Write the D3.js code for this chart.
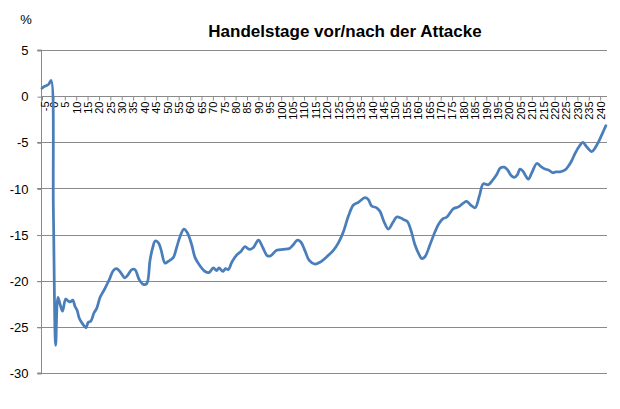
<!DOCTYPE html>
<html>
<head>
<meta charset="utf-8">
<script src="https://cdn.jsdelivr.net/npm/d3@7"></script>
<style>
  html, body { margin: 0; padding: 0; background: #ffffff; }
  svg { display: block; }
</style>
</head>
<body>
<svg id="chart" width="620" height="409"></svg>
<script>
// ---- data ----
const title = "Handelstage vor/nach der Attacke";
const unitLabel = "%";
const yTickValues = [5, 0, -5, -10, -15, -20, -25, -30];
const xTickLabels = [-5, 0, 5, 10, 15, 20, 25, 30, 35, 40, 45, 50, 55, 60, 65, 70, 75, 80, 85, 90,
  95, 100, 105, 110, 115, 120, 125, 130, 135, 140, 145, 150, 155, 160, 165, 170, 175, 180, 185, 190,
  195, 200, 205, 210, 215, 220, 225, 230, 235, 240];

// trading day relative to the attack
const days = [
  -5, -4, -3, -2, -1, 0, 1, 2, 3, 4, 5.4, 6.5, 7.5, 8.5, 9.5, 10.4, 11.4, 12.9, 14.3, 15.3, 16.4,
  17.8, 19.0, 20.5, 21.6, 22.7, 24.5, 26.3, 27.8, 29.2, 31.4, 32.9, 34.4, 35.8, 37.7, 39.5, 41.0,
  42.4, 43.6, 44.7, 46.1, 47.2, 49.0, 50.4, 52.6, 54.1, 55.6, 57.3, 58.8, 60.7, 62.2, 64.4, 66.6,
  68.4, 70.2, 71.7, 72.7, 74.3, 75.6, 76.8, 78.3, 80.5, 82.4, 84.1, 86.0, 87.8, 90.0, 91.9, 93.9,
  95.4, 98.0, 100.9, 103.6, 105.3, 107.1, 108.6, 110.5, 112.3, 114.8, 117.0, 120.0, 122.9, 125.1,
  127.3, 129.5, 131.7, 133.9, 136.8, 138.2, 139.7, 141.9, 143.4, 145.1, 147.0, 149.0, 150.7, 152.5,
  153.9, 155.4, 156.9, 158.7, 160.6, 161.7, 163.1, 165.3, 167.5, 169.0, 170.9, 172.7, 175.6, 177.8,
  179.9, 181.4, 183.2, 185.1, 187.0, 188.7, 190.9, 192.8, 194.6, 196.1, 197.9, 199.4, 200.9, 202.3,
  203.7, 204.8, 206.0, 207.2, 208.5, 210.0, 212.2, 213.9, 215.8, 217.3, 219.2, 220.6, 222.4, 224.6,
  226.0, 227.5, 229.0, 230.9, 232.4, 234.1, 236.3, 237.8, 239.2, 240.7, 242.5
];
// change in percent
const pct = [
  0.85, 1.05, 1.15, 1.3, 1.7, -12.5, -27.0, -21.8, -22.6, -23.3, -22.0, -22.2, -22.3, -22.1, -22.8, -23.2, -24.1, -24.7, -25.1, -24.5, -24.4,
  -23.5, -23.0, -21.8, -21.3, -20.8, -19.9, -18.9, -18.7, -19.0, -19.7, -19.3, -18.8, -18.8, -19.9, -20.4, -20.3,
  -17.8, -16.4, -15.7, -15.9, -16.6, -18.1, -17.9, -17.5, -16.4, -15.2, -14.4, -14.8, -16.1, -17.5, -18.4, -19.0,
  -19.1, -18.6, -18.9, -18.6, -19.0, -18.7, -18.8, -18.0, -17.2, -16.8, -16.3, -16.6, -16.4, -15.6, -16.4, -17.3,
  -17.3, -16.7, -16.6, -16.5, -16.1, -15.6, -15.8, -16.8, -17.8, -18.2, -18.0, -17.4, -16.7, -15.9,
  -14.7, -13.0, -11.8, -11.5, -11.0, -11.2, -11.9, -12.1, -12.5, -13.6, -14.4, -13.7, -13.1, -13.2,
  -13.4, -13.6, -14.5, -16.1, -17.2, -17.6, -17.4, -16.1, -14.7, -13.9, -13.3, -13.1, -12.2, -12.0,
  -11.6, -11.4, -11.8, -12.1, -10.8, -9.5, -9.6, -9.1, -8.5, -7.8, -7.7, -8.0, -8.6, -8.8,
  -8.5, -7.9, -8.1, -8.6, -9.0, -8.3, -7.3, -7.6, -7.9, -8.0, -8.3, -8.2, -8.2, -8.0,
  -7.6, -7.0, -6.2, -5.4, -5.0, -5.5, -6.0, -5.6, -5.0, -4.2, -3.2
];

// ---- layout ----
const svg = d3.select("#chart");
const plot = { left: 41, right: 607, top: 50, bottom: 373 };
const gridColor = "#8a8a8a";
const lineColor = "#4A7EBB";
const font = "'Liberation Sans', Arial, sans-serif";

const x = d3.scaleLinear().domain([-5, 243]).range([42, 607]);
const y = d3.scaleLinear().domain([-30, 5]).range([plot.bottom, plot.top]);
const fmt = d => d < 0 ? "-" + Math.abs(d) : String(d);

// horizontal gridlines
svg.append("g").selectAll("line")
  .data(yTickValues.filter(v => v !== 0))
  .join("line")
  .attr("x1", plot.left - 4).attr("x2", plot.right)
  .attr("y1", d => Math.round(y(d)) + 0.5).attr("y2", d => Math.round(y(d)) + 0.5)
  .attr("stroke", gridColor).attr("stroke-width", 1);

// y axis
const yAxis = d3.axisLeft(y).tickValues(yTickValues).tickSize(4).tickPadding(9).tickFormat(fmt);
const gy = svg.append("g")
  .attr("transform", `translate(${plot.left + 0.5},0)`)
  .call(yAxis);
gy.select(".domain").attr("stroke", gridColor).attr("d", `M-4,${plot.top}H0V${plot.bottom}H-4`);
gy.selectAll(".tick line").attr("stroke", gridColor).attr("transform", "translate(0,0.5)");
gy.selectAll(".tick text")
  .attr("font-family", font)
  .attr("font-size", 13).attr("fill", "#000").attr("dy", "0.36em");

// x axis at zero
const xAxis = d3.axisBottom(x).tickValues(xTickLabels).tickSize(4).tickPadding(3).tickFormat(fmt);
const gx = svg.append("g")
  .attr("transform", `translate(0,${Math.round(y(0)) + 0.5})`)
  .call(xAxis);
gx.select(".domain").attr("stroke", gridColor).attr("d", `M${plot.left},0H${plot.right}`);
gx.selectAll(".tick line").attr("stroke", gridColor);
gx.selectAll(".tick text")
  .attr("font-family", font)
  .attr("font-size", 11).attr("fill", "#000")
  .attr("text-anchor", "end")
  .attr("transform", "rotate(-90)")
  .attr("x", -5).attr("y", d => d < 0 ? 3 : 0).attr("dy", "0.35em");

// line
const pts = days.map((d, i) => [d, pct[i]]);
const line = d3.line().x(d => x(d[0])).y(d => y(d[1])).curve(d3.curveCatmullRom.alpha(0.5));
svg.append("path")
  .datum(pts)
  .attr("d", line)
  .attr("fill", "none")
  .attr("stroke", lineColor)
  .attr("stroke-width", 2.75)
  .attr("stroke-linejoin", "round")
  .attr("stroke-linecap", "round");

// title
svg.append("text")
  .attr("x", 345).attr("y", 37)
  .attr("text-anchor", "middle")
  .attr("font-family", font)
  .attr("font-weight", "bold").attr("font-size", 17)
  .attr("fill", "#000")
  .text(title);

// unit label
svg.append("text")
  .attr("x", 26).attr("y", 24)
  .attr("text-anchor", "middle")
  .attr("font-family", font)
  .attr("font-size", 13).attr("fill", "#000")
  .text(unitLabel);
</script>
</body>
</html>
